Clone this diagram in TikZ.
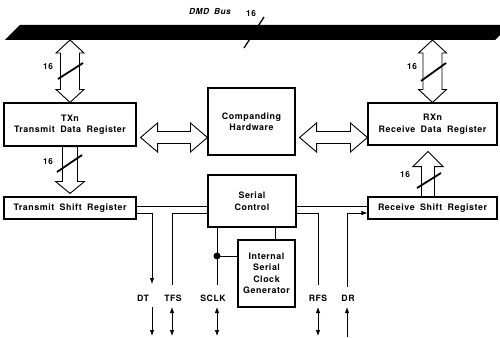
\documentclass[tikz,border=0pt]{standalone}
\usepackage{fontspec}
\setmainfont{TeX Gyre Heros}
\newfontfamily\blockfont[LetterSpace=6,WordSpace=1.8]{TeX Gyre Heros}
\usetikzlibrary{calc,arrows.meta}

\tikzset{
  reg/.style={draw, line width=1.1pt, align=center, inner sep=1pt,
    font=\blockfont\bfseries\fontsize{8.9}{11.5}\selectfont},
  pinname/.style={font=\blockfont\bfseries\fontsize{8.7}{10}\selectfont},
  width16/.style={font=\blockfont\bfseries\fontsize{8.3}{10}\selectfont},
  hollow/.style={draw, fill=white, line width=0.9pt, line join=miter},
  sig/.style={line width=0.8pt},
  slash/.style={line width=1.8pt},
  tip/.style={-{Latex[length=6pt,width=4.5pt]}},
  twotip/.style={{Latex[length=6pt,width=4.5pt]}-{Latex[length=6pt,width=4.5pt]}}
}

% hollow double arrow, vertical: top, bottom, shaft half width
\newcommand{\biarrowV}[3]{%
  \draw[hollow] let \p1=#1, \p2=#2 in
    (\x1,\y1) -- (\x1+14pt,\y1-13pt) -- (\x1+#3,\y1-13pt)
    -- (\x1+#3,\y2+13pt) -- (\x1+14pt,\y2+13pt) -- (\x1,\y2)
    -- (\x1-14pt,\y2+13pt) -- (\x1-#3,\y2+13pt)
    -- (\x1-#3,\y1-13pt) -- (\x1-14pt,\y1-13pt) -- cycle;}
% hollow double arrow, horizontal: left, right
\newcommand{\biarrowH}[2]{%
  \draw[hollow] let \p1=#1, \p2=#2 in
    (\x1,\y1) -- (\x1+17pt,\y1+14.5pt) -- (\x1+17pt,\y1+6pt)
    -- (\x2-17pt,\y1+6pt) -- (\x2-17pt,\y1+14.5pt) -- (\x2,\y1)
    -- (\x2-17pt,\y1-14.5pt) -- (\x2-17pt,\y1-6pt)
    -- (\x1+17pt,\y1-6pt) -- (\x1+17pt,\y1-14.5pt) -- cycle;}
% hollow single arrow, vertical: tail, tip, shaft half, head half, signed head length
\newcommand{\uniarrowV}[5]{%
  \draw[hollow] let \p1=#1, \p2=#2 in
    (\x1-#3,\y1) -- (\x1+#3,\y1) -- (\x1+#3,{\y2#5}) -- (\x1+#4,{\y2#5})
    -- (\x1,\y2) -- (\x1-#4,{\y2#5}) -- (\x1-#3,{\y2#5}) -- cycle;}

\begin{document}
\begin{tikzpicture}[x=1pt, y=-1pt]
    \useasboundingbox (0,0) rectangle (500,337);

    % --- DMD bus ---
    \fill (5,40) -- (20,25) -- (500,25) -- (500,35) -- (495,40) -- cycle;
    \coordinate (busbot) at (0,40);
    \node[font=\blockfont\bfseries\itshape\fontsize{8.3}{10}\selectfont] (busname) at (210,12) {DMD Bus};
    \draw[line width=1.3pt] (244,48) -- (264,17);
    \node[width16] (buswidth) at (251,14) {16};

    % --- Registers ---
    \node[reg, minimum width=132pt, minimum height=43pt] (txn) at (70,124.5) {TXn\\Transmit Data Register};
    \node[reg, minimum width=87pt, minimum height=67pt] (comp) at (251.5,121.5) {Companding\\Hardware};
    \node[reg, minimum width=129pt, minimum height=42pt] (rxn) at (432.5,124) {RXn\\Receive Data Register};
    \node[reg, minimum width=132pt, minimum height=22pt] (tsr) at (70,208) {Transmit Shift Register};
    \node[reg, minimum width=129pt, minimum height=22pt] (rsr) at (432.5,208) {Receive Shift Register};
    \node[reg, minimum width=88pt, minimum height=52pt] (sc) at (252,201) {Serial\\Control};
    \node[reg, minimum width=57pt, minimum height=67pt] (isc) at (266.5,273.5) {Internal\\Serial\\Clock\\Generator};

    % --- Wide data paths ---
    \biarrowV{(txn.north |- busbot)}{(txn.north)}{9.5pt}
    \biarrowV{(rxn.north |- busbot)}{(rxn.north)}{9.5pt}
    \coordinate (hmid) at (0,137.5);
    \biarrowH{($(txn.east |- hmid)+(4,0)$)}{(comp.west |- hmid)}
    \biarrowH{($(comp.east |- hmid)+(4,0)$)}{(rxn.west |- hmid)}
    \uniarrowV{(txn.south)}{($(tsr.north)+(0,-3)$)}{7.5pt}{14.5pt}{+12pt}
    \coordinate (rxX) at (428,0);
    \uniarrowV{(rsr.north -| rxX)}{($(rxn.south -| rxX)+(0,6)$)}{6.5pt}{15pt}{-15pt}

    % --- 16-bit marks ---
    \draw[slash] (58,79) -- (83,63);   \node[width16] (w1) at (48,67) {16};
    \draw[slash] (421,81) -- (446,63); \node[width16] (w2) at (412,67) {16};
    \draw[slash] (57,172) -- (82,155); \node[width16] (w3) at (48,162) {16};
    \draw[slash] (417,188) -- (441,173); \node[width16] (w4) at (405,175) {16};

    % --- Serial lines ---
    \coordinate (hiY) at (0,206);
    \coordinate (loY) at (0,213);
    \coordinate (dtT) at (152,284);
    \coordinate (tfsT) at (172,285);
    \coordinate (sclkT) at (217,285);
    \coordinate (rfsT) at (318,285);
    \coordinate (drT) at (347,287);
    \coordinate (clkX) at (275,0);
    \coordinate (clkdot) at (217,256);

    \draw[sig] (tsr.east |- hiY) -- (sc.west |- hiY);
    \draw[sig] (sc.east |- hiY) -- (rsr.west |- hiY);
    \draw[sig, tip] (tsr.east |- loY) -| (dtT);
    \draw[sig] (sc.west |- loY) -| (tfsT);
    \draw[sig] (sc.east |- loY) -| (rfsT);
    \draw[sig, tip] (drT) |- (rsr.west |- loY);
    \draw[sig] (sc.south -| sclkT) -- (sclkT);
    \draw[sig] (sc.south -| clkX) -- (isc.north -| clkX);
    \draw[sig] (clkdot) -- (isc.west |- clkdot);
    \fill (clkdot) circle (3.5pt);

    % --- Pins ---
    \node[pinname] (dt) at (143,298) {DT};
    \node[pinname] (tfs) at (173,298) {TFS};
    \node[pinname] (sclk) at (213,298) {SCLK};
    \node[pinname] (rfs) at (318,298) {RFS};
    \node[pinname] (dr) at (348,298) {DR};

    \coordinate (dtA) at (152,307);   \coordinate (dtB) at (152,336);
    \coordinate (tfsA) at (172,307);  \coordinate (tfsB) at (172,336);
    \coordinate (sclkA) at (217,307); \coordinate (sclkB) at (217,336);
    \coordinate (rfsA) at (318,307);  \coordinate (rfsB) at (318,336);
    \coordinate (drA) at (347,307);   \coordinate (drB) at (347,337);
    \draw[sig, tip] (dtA) -- (dtB);
    \draw[sig, twotip] (tfsA) -- (tfsB);
    \draw[sig, twotip] (sclkA) -- (sclkB);
    \draw[sig, twotip] (rfsA) -- (rfsB);
    \draw[sig, tip] (drB) -- (drA);
\end{tikzpicture}
\end{document}
